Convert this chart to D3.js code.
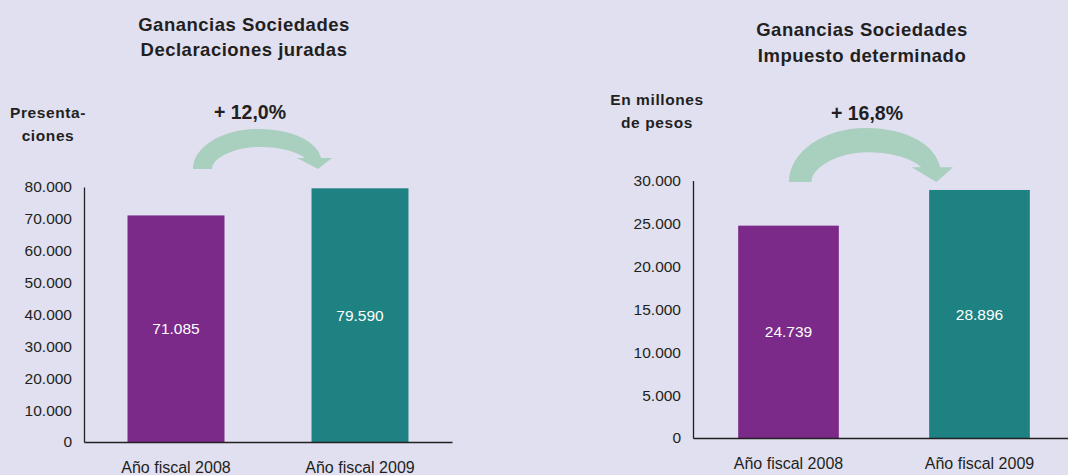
<!DOCTYPE html>
<html>
<head>
<meta charset="utf-8">
<script src="https://cdn.jsdelivr.net/npm/d3@7"></script>
<style>
  html, body { margin: 0; padding: 0; background: #e1e0f0; }
  svg { display: block; font-family: "Liberation Sans", Arial, sans-serif; }
</style>
</head>
<body>
<svg id="chart" width="1068" height="475"></svg>
<script>
// data
var categories = ["Año fiscal 2008", "Año fiscal 2009"];
var presentaciones = [71085, 79590];
var impuesto = [24739, 28896];
var ticksPresentaciones = [0, 10000, 20000, 30000, 40000, 50000, 60000, 70000, 80000];
var ticksImpuesto = [0, 5000, 10000, 15000, 20000, 25000, 30000];
var titles = [["Ganancias Sociedades", "Declaraciones juradas"],
              ["Ganancias Sociedades", "Impuesto determinado"]];
var unitLabels = [["Presenta-", "ciones"], ["En millones", "de pesos"]];
var variations = ["+ 12,0%", "+ 16,8%"];

var colors = ["#7b2a8a", "#1e8282"];
var ink = "#231f20";

var locale = d3.formatLocale({decimal: ",", thousands: ".", grouping: [3], currency: ["$", ""]});
var fmt = locale.format(",d");

var svg = d3.select("#chart");

var panels = [
  {
    values: presentaciones, ticks: ticksPresentaciones, max: 80000,
    x: [84, 452], y: [442, 187],
    titleX: 244, titleY: [31, 56],
    unitX: 48, unitY: [118, 141],
    varX: 250, varY: 119,
    arrow: {L: 193, T: 129, W: 139, H: 40}
  },
  {
    values: impuesto, ticks: ticksImpuesto, max: 30000,
    x: [693, 1075], y: [438, 180.5],
    titleX: 862, titleY: [35.5, 62],
    unitX: 657, unitY: [105, 128],
    varX: 867, varY: 120,
    arrow: {L: 789, T: 128, W: 164, H: 54}
  }
];

// curved arrow outline in unit box coordinates
var arrowPts = [
  ["M", 0, 1],
  ["C", 0, 0.45, 0.209, 0, 0.468, 0],
  ["C", 0.734, 0, 0.899, 0.35, 0.921, 0.725],
  ["L", 1, 0.725],
  ["L", 0.899, 1],
  ["L", 0.748, 0.725],
  ["L", 0.806, 0.725],
  ["C", 0.734, 0.525, 0.59, 0.45, 0.475, 0.45],
  ["C", 0.302, 0.45, 0.137, 0.725, 0.137, 1],
  ["Z"]
];

function arrowPath(a) {
  var p = d3.path();
  function px(u) { return a.L + u * a.W; }
  function py(v) { return a.T + v * a.H; }
  arrowPts.forEach(function(s) {
    if (s[0] == "M") p.moveTo(px(s[1]), py(s[2]));
    else if (s[0] == "L") p.lineTo(px(s[1]), py(s[2]));
    else if (s[0] == "C") p.bezierCurveTo(px(s[1]), py(s[2]), px(s[3]), py(s[4]), px(s[5]), py(s[6]));
    else p.closePath();
  });
  return p.toString();
}

panels.forEach(function(pn, i) {
  var g = svg.append("g");

  var x = d3.scaleBand()
    .domain(categories)
    .range(pn.x)
    .paddingInner(0.473)
    .paddingOuter(0.2365);

  var y = d3.scaleLinear()
    .domain([0, pn.max])
    .range(pn.y);

  // titles
  g.append("text")
    .attr("text-anchor", "middle")
    .style("font-weight", "bold")
    .style("font-size", "18.5px")
    .style("letter-spacing", "0.5px")
    .style("fill", ink)
    .selectAll("tspan")
    .data(titles[i])
    .enter().append("tspan")
    .attr("x", pn.titleX)
    .attr("y", function(d, j) { return pn.titleY[j]; })
    .text(function(d) { return d; });

  // unit label
  g.append("text")
    .attr("text-anchor", "middle")
    .style("font-weight", "bold")
    .style("font-size", "15.5px")
    .style("letter-spacing", "0.6px")
    .style("fill", ink)
    .selectAll("tspan")
    .data(unitLabels[i])
    .enter().append("tspan")
    .attr("x", pn.unitX)
    .attr("y", function(d, j) { return pn.unitY[j]; })
    .text(function(d) { return d; });

  // variation + arrow
  g.append("path")
    .attr("d", arrowPath(pn.arrow))
    .style("fill", "#a9cfbe");

  g.append("text")
    .attr("x", pn.varX)
    .attr("y", pn.varY)
    .attr("text-anchor", "middle")
    .style("font-weight", "bold")
    .style("font-size", "19.5px")
    .style("fill", ink)
    .text(variations[i]);

  // bars
  g.selectAll(".bar")
    .data(pn.values)
    .enter().append("rect")
    .attr("class", "bar")
    .attr("x", function(d, j) { return x(categories[j]); })
    .attr("width", x.bandwidth())
    .attr("y", function(d) { return y(d); })
    .attr("height", function(d) { return y(0) - y(d); })
    .style("fill", function(d, j) { return colors[j]; });

  // values inside bars
  g.selectAll(".val")
    .data(pn.values)
    .enter().append("text")
    .attr("class", "val")
    .attr("x", function(d, j) { return x(categories[j]) + x.bandwidth() / 2; })
    .attr("y", function(d) { return (y(d) + y(0)) / 2; })
    .attr("dy", "0.36em")
    .attr("text-anchor", "middle")
    .style("font-size", "15.5px")
    .style("fill", "#ffffff")
    .text(function(d) { return fmt(d); });

  // y axis
  var yAxis = g.append("g")
    .attr("transform", "translate(" + pn.x[0] + ",0)")
    .call(d3.axisLeft(y).tickValues(pn.ticks).tickSize(0).tickPadding(12).tickFormat(fmt));
  yAxis.select(".domain").style("stroke", ink).style("stroke-width", "1.3px");
  yAxis.selectAll("text")
    .style("font-size", "15.5px")
    .style("font-family", "\"Liberation Sans\", Arial, sans-serif")
    .style("fill", ink);

  // x axis
  var xAxis = g.append("g")
    .attr("transform", "translate(0," + y(0) + ")")
    .call(d3.axisBottom(x).tickSize(0).tickPadding(20));
  xAxis.select(".domain").style("stroke", ink).style("stroke-width", "1.3px");
  xAxis.selectAll("text")
    .style("font-size", "16px")
    .style("font-family", "\"Liberation Sans\", Arial, sans-serif")
    .style("fill", ink);
});
</script>
</body>
</html>
